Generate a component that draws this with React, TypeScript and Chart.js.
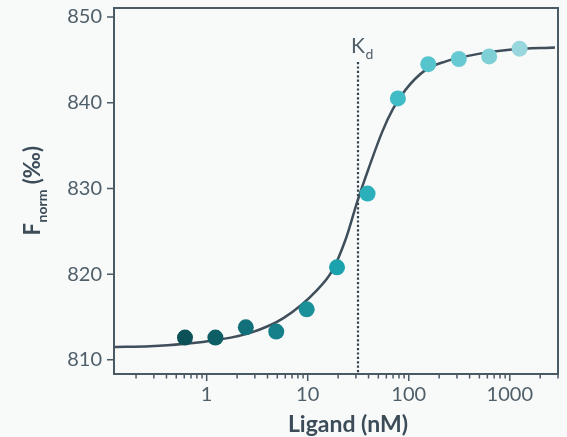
import React, { useEffect, useRef } from "react";
import { Chart, registerables } from "chart.js";

Chart.register(...registerables);

// Measured data (ligand concentration in nM, Fnorm in ‰)
const CONCENTRATIONS = [0.61, 1.22, 2.44, 4.88, 9.77, 19.5, 39.1, 78.1, 156, 313, 625, 1250];
const FNORM = [812.6, 812.6, 813.8, 813.3, 815.9, 820.8, 829.4, 840.5, 844.5, 845.1, 845.4, 846.3];
const POINT_COLORS = [
  "#0b5157", "#0e5e65", "#117079", "#16808a", "#1a9099", "#1ba2ac",
  "#2bb0bb", "#40bcc6", "#56c4cd", "#67c9d1", "#7ecfd6", "#98d7de",
];

// Fit curve
const FIT_X = [0.121, 0.275, 0.58, 1.3, 2.7, 5.8, 12.5, 17.5, 23.8, 31, 40, 54.6, 70, 92.8, 146, 229, 490, 1045, 2800];
const FIT_Y = [811.5, 811.6, 811.85, 812.35, 813.15, 814.9, 818.2, 820.4, 824.1, 828.5, 832.3, 836.6, 839.3, 841.5, 843.8, 844.8, 845.7, 846.2, 846.45];

const KD = 31.5;

const Y_TICKS = [810, 820, 830, 840, 850];
const X_LABEL_TICKS = [1, 10, 100, 1000];
const X_MINOR_TICKS = [
  0.2, 0.3, 0.4, 0.5, 0.6, 0.7, 0.8, 0.9,
  2, 3, 4, 5, 6, 7, 8, 9,
  20, 30, 40, 50, 60, 70, 80, 90,
  200, 300, 400, 500, 600, 700, 800, 900,
  2000, 3000,
];

const X_MIN = 0.121;
const X_MAX = 3000;
const Y_MIN = 808.35;
const Y_MAX = 851.05;

const BG = "#f8f9f9";
const AXIS = "#4a5a65";
const TICK_TEXT = "#4f5f6a";
const TITLE = "#3b4c58";
const CURVE = "#3e4e5a";
const FONT = "Lato";

const decor = {
  id: "decor",
  beforeDraw(chart: any) {
    const { ctx, width, height } = chart;
    ctx.save();
    ctx.fillStyle = BG;
    ctx.fillRect(0, 0, width, height);
    ctx.restore();
  },
  beforeDatasetsDraw(chart: any) {
    const { ctx, chartArea } = chart;
    const xs = chart.scales.x;
    const kx = Math.round(xs.getPixelForValue(KD));
    ctx.save();
    ctx.strokeStyle = "#34444f";
    ctx.lineWidth = 2.2;
    ctx.setLineDash([2.2, 2.2]);
    ctx.beginPath();
    ctx.moveTo(kx, 62);
    ctx.lineTo(kx, chartArea.bottom);
    ctx.stroke();
    ctx.restore();
  },
  afterDraw(chart: any) {
    const { ctx, chartArea } = chart;
    const xs = chart.scales.x;
    const ys = chart.scales.y;
    const { left, right, top, bottom } = chartArea;
    ctx.save();
    // box
    ctx.strokeStyle = AXIS;
    ctx.lineWidth = 2;
    ctx.strokeRect(left, top, right - left, bottom - top);
    // ticks
    ctx.lineWidth = 1.5;
    ctx.beginPath();
    for (const v of Y_TICKS) {
      const y = ys.getPixelForValue(v);
      ctx.moveTo(left - 7, y);
      ctx.lineTo(left, y);
    }
    for (const v of X_LABEL_TICKS) {
      const x = xs.getPixelForValue(v);
      ctx.moveTo(x, bottom);
      ctx.lineTo(x, bottom + 7);
    }
    for (const v of X_MINOR_TICKS) {
      const x = xs.getPixelForValue(v);
      ctx.moveTo(x, bottom);
      ctx.lineTo(x, bottom + 4.5);
    }
    ctx.stroke();

    // Kd label
    const kx = xs.getPixelForValue(KD);
    ctx.fillStyle = TICK_TEXT;
    ctx.textBaseline = "alphabetic";
    ctx.textAlign = "left";
    ctx.font = `21px ${FONT}`;
    const kw = ctx.measureText("K").width;
    const kStart = kx - 7;
    ctx.fillText("K", kStart, 53);
    ctx.font = `14px ${FONT}`;
    ctx.fillText("d", kStart + kw + 0.5, 59);

    // X title
    ctx.fillStyle = TITLE;
    ctx.font = `bold 23px ${FONT}`;
    ctx.textAlign = "center";
    ctx.fillText("Ligand (nM)", (left + right) / 2 + 12, 432);

    // Y title (rotated, with subscript)
    ctx.save();
    ctx.translate(40, (top + bottom) / 2);
    ctx.rotate(-Math.PI / 2);
    ctx.textAlign = "left";
    ctx.font = `bold 22px ${FONT}`;
    const wF = ctx.measureText("F").width;
    const wP = ctx.measureText(" (‰)").width;
    ctx.font = `bold 14px ${FONT}`;
    const wN = ctx.measureText("norm").width;
    const total = wF + wN + wP;
    let cx = -total / 2;
    ctx.font = `bold 22px ${FONT}`;
    ctx.fillText("F", cx, 0);
    cx += wF + 0.5;
    ctx.font = `bold 14px ${FONT}`;
    ctx.fillText("norm", cx, 7);
    cx += wN;
    ctx.font = `bold 22px ${FONT}`;
    ctx.fillText(" (‰)", cx, 0);
    ctx.restore();

    ctx.restore();
  },
};

export default function App() {
  const ref = useRef<HTMLCanvasElement | null>(null);

  useEffect(() => {
    document.body.style.margin = "0";
    document.body.style.background = BG;
    if (!ref.current) return;
    const chart = new Chart(ref.current, {
      type: "scatter",
      data: {
        datasets: [
          {
            data: CONCENTRATIONS.map((x, i) => ({ x, y: FNORM[i] })),
            backgroundColor: POINT_COLORS,
            borderWidth: 0,
            pointRadius: 8,
            pointHoverRadius: 8,
            showLine: false,
            order: 0,
          },
          {
            data: FIT_X.map((x, i) => ({ x, y: FIT_Y[i] })),
            borderColor: CURVE,
            borderWidth: 2.5,
            pointRadius: 0,
            showLine: true,
            cubicInterpolationMode: "monotone",
            fill: false,
            order: 1,
          } as any,
        ],
      },
      options: {
        responsive: false,
        animation: false,
        devicePixelRatio: 1,
        layout: { padding: { left: 0, top: 6, right: 9, bottom: 0 } },
        plugins: { legend: { display: false }, tooltip: { enabled: false } },
        scales: {
          x: {
            type: "logarithmic",
            min: X_MIN,
            max: X_MAX,
            grid: { display: false, drawTicks: false },
            border: { display: false },
            afterBuildTicks: (s: any) => {
              s.ticks = X_LABEL_TICKS.map((v) => ({ value: v }));
            },
            afterFit: (s: any) => {
              s.height = 63;
              s.paddingLeft = 0;
              s.paddingRight = 0;
            },
            ticks: {
              autoSkip: false,
              maxRotation: 0,
              padding: 9,
              color: TICK_TEXT,
              font: { family: FONT, size: 20 },
              callback: (v: any) => String(v),
            },
          },
          y: {
            type: "linear",
            min: Y_MIN,
            max: Y_MAX,
            grid: { display: false, drawTicks: false },
            border: { display: false },
            afterBuildTicks: (s: any) => {
              s.ticks = Y_TICKS.map((v) => ({ value: v }));
            },
            afterFit: (s: any) => {
              s.width = 114;
              s.paddingTop = 0;
              s.paddingBottom = 0;
            },
            ticks: {
              autoSkip: false,
              padding: 12,
              color: TICK_TEXT,
              font: { family: FONT, size: 20 },
              callback: (v: any) => String(v),
            },
          },
        },
      },
      plugins: [decor],
    });
    return () => chart.destroy();
  }, []);

  return (
    <div style={{ width: 567, height: 437, background: BG }}>
      <canvas ref={ref} width={567} height={437} style={{ display: "block" }} />
    </div>
  );
}
